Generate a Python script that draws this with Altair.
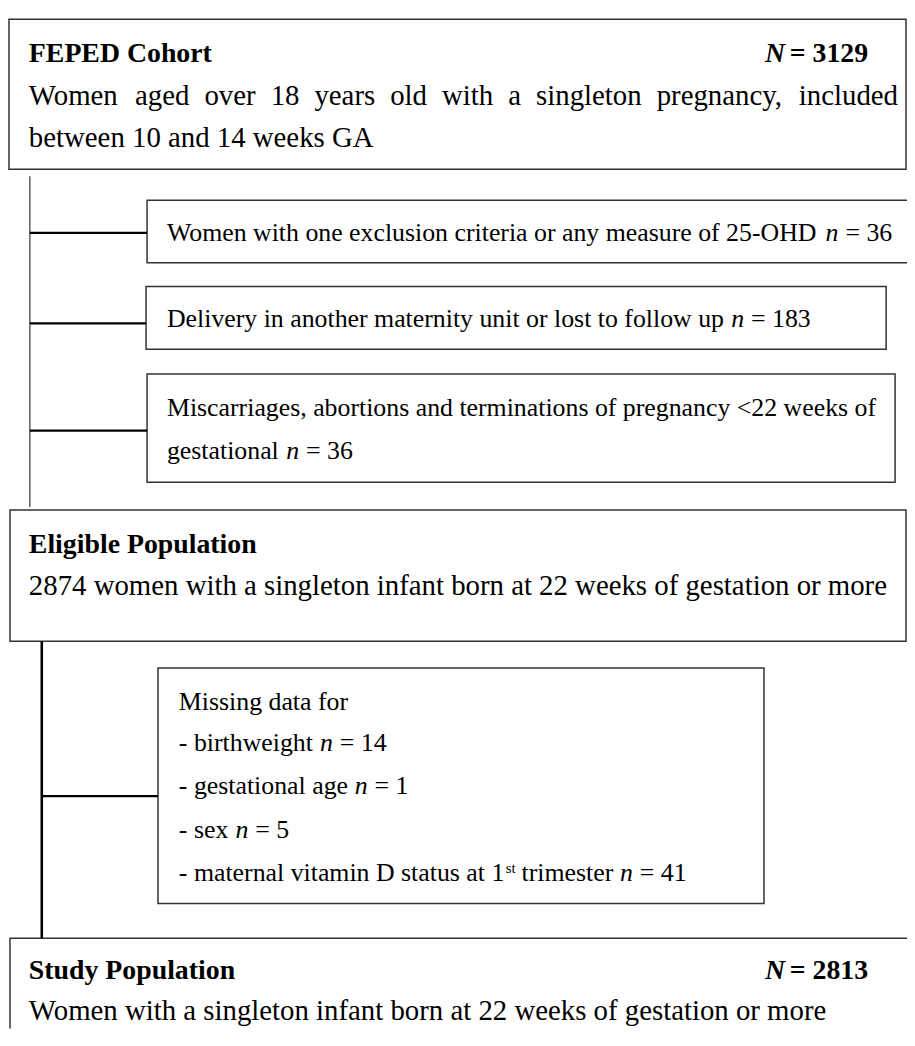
import altair as alt
import pandas as pd

# ---------------- data (text and counts) ----------------
stage_titles = ["FEPED Cohort", "Eligible Population", "Study Population"]
stage_N = [3129, 2874, 2813]
cohort_desc = ["Women aged over 18 years old with a singleton pregnancy, included",
               "between 10 and 14 weeks GA"]
eligible_desc = "women with a singleton infant born at 22 weeks of gestation or more"
study_desc = "Women with a singleton infant born at 22 weeks of gestation or more"
excl_labels = ["Women with one exclusion criteria or any measure of 25-OHD",
               "Delivery in another maternity unit or lost to follow up",
               "Miscarriages, abortions and terminations of pregnancy <22 weeks of",
               "gestational"]
excl_n = [36, 183, 36]
missing_header = "Missing data for"
missing_labels = ["- birthweight", "- gestational age", "- sex",
                  "- maternal vitamin D status at 1"]
missing_sup = ["st", "trimester"]
missing_n = [14, 1, 5, 41]

# ---------------- layout (page pixel coordinates) ----------------
W, H = 905, 1024
X0, Y0 = 8, 8
FONT = "Liberation Serif"
BIG, TITLE, SMALL = 29, 28, 26

# advance widths (per 1000 em) of the serif face, used only to justify one line
ADV = {"W": 944, "o": 500, "m": 778, "e": 444, "n": 500, "a": 444, "g": 500,
       "d": 500, "v": 500, "r": 333, "1": 500, "8": 500, "y": 500, "s": 389,
       "l": 278, "w": 722, "i": 278, "t": 278, "h": 500, "p": 500, "c": 444,
       ",": 250, "u": 500, " ": 250}

box_geom = [  # x0, y0, x1, y1
    (9, 16, 912, 167),
    (148, 198, 930, 261),
    (147, 285, 892, 348),
    (148, 373, 901, 482),
    (10, 510, 912, 642),
    (159, 669, 769, 906),
    (10, 941, 930, 1080),
]
line_geom = [  # x, x2, y, y2, width, colour
    (30, 30, 174, 507, 1.3, "#444444"),
    (30, 148, 231, 231, 2.2, "#000000"),
    (30, 147, 322, 322, 2.2, "#000000"),
    (30, 148, 430, 430, 2.2, "#000000"),
    (42, 42, 642, 941, 2.6, "#000000"),
    (42, 159, 798, 798, 2.4, "#000000"),
]

rows = []


def add(t, x, y, style, size):
    rows.append({"t": t, "x": x, "y": y, "style": style, "fs": size})


# stage boxes
title_y = [59, 553, 982]
for i, title in enumerate(stage_titles):
    add(title, 29, title_y[i], "b", TITLE)
for k in (0, 2):
    add("N", 770, title_y[k], "bi", TITLE)
    add(f"= {stage_N[k]}", 795, title_y[k], "b", TITLE)

# justified first line of the cohort box
words = cohort_desc[0].split(" ")
left, right = 29, 904
wlen = [sum(ADV.get(ch, 500) for ch in w) * BIG / 1000 for w in words]
gap = (right - left - sum(wlen)) / (len(words) - 1)
xpos = left
for w, wl in zip(words, wlen):
    add(w, xpos, 102, "r", BIG)
    xpos += wl + gap
add(cohort_desc[1], 29, 145, "r", BIG)
add(f"{stage_N[1]} {eligible_desc}", 29, 595, "r", BIG)
add(study_desc, 29, 1023, "r", BIG)

# exclusion boxes
excl_pos = [  # label x, label y, n x, value x
    (168, 239, 831, 851),
    (168, 326, 736, 756),
]
for i, (lx, ly, nx, vx) in enumerate(excl_pos):
    add(excl_labels[i], lx, ly, "r", SMALL)
    add("n", nx, ly, "i", SMALL)
    add(f"= {excl_n[i]}", vx, ly, "r", SMALL)
add(excl_labels[2], 168, 415, "r", SMALL)
add(excl_labels[3], 168, 459, "r", SMALL)
add("n", 288, 459, "i", SMALL)
add(f"= {excl_n[2]}", 308, 459, "r", SMALL)

# missing data box
add(missing_header, 180, 711, "r", SMALL)
miss_pos = [(753, 322, 342), (796, 357, 377), (840, 237, 257), (883, 624, 644)]
for i, (ly, nx, vx) in enumerate(miss_pos):
    add(missing_labels[i], 180, ly, "r", SMALL)
    add("n", nx, ly, "i", SMALL)
    add(f"= {missing_n[i]}", vx, ly, "r", SMALL)
add(missing_sup[0], 509, 875, "r", 15)
add(missing_sup[1], 525, 883, "r", SMALL)

boxes = pd.DataFrame(box_geom, columns=["x0", "y0", "x1", "y1"])
lines = pd.DataFrame(line_geom, columns=["x", "x2", "y", "y2", "w", "c"])
texts = pd.DataFrame(rows)

xs = alt.Scale(domain=[X0, X0 + W], nice=False, zero=False)
ys = alt.Scale(domain=[Y0, Y0 + H], nice=False, zero=False, reverse=True)

rect = alt.Chart(boxes).mark_rect(fillOpacity=0, stroke="#333333", strokeWidth=1.5,
                                  clip=True).encode(
    x=alt.X("x0:Q", scale=xs, axis=None), x2="x1:Q",
    y=alt.Y("y0:Q", scale=ys, axis=None), y2="y1:Q")

rules = alt.Chart(lines).mark_rule().encode(
    x=alt.X("x:Q", scale=xs, axis=None), x2="x2:Q",
    y=alt.Y("y:Q", scale=ys, axis=None), y2="y2:Q",
    strokeWidth=alt.StrokeWidth("w:Q", scale=None),
    color=alt.Color("c:N", scale=None))

styles = {"r": ("normal", "normal"), "b": ("bold", "normal"),
          "i": ("normal", "italic"), "bi": ("bold", "italic")}
text_layers = []
for key, (fw, fst) in styles.items():
    sub = texts[texts["style"] == key]
    text_layers.append(
        alt.Chart(sub).mark_text(align="left", baseline="alphabetic", font=FONT,
                                 fontWeight=fw, fontStyle=fst, color="#000000").encode(
            x=alt.X("x:Q", scale=xs, axis=None),
            y=alt.Y("y:Q", scale=ys, axis=None),
            text="t:N",
            size=alt.Size("fs:Q", scale=None)))

chart = alt.layer(rect, rules, *text_layers).properties(
    width=W, height=H, padding=0,
    autosize=alt.AutoSizeParams(type="none")).configure_view(stroke=None)

chart.save("out.html", embed_options={"renderer": "svg", "actions": False})
